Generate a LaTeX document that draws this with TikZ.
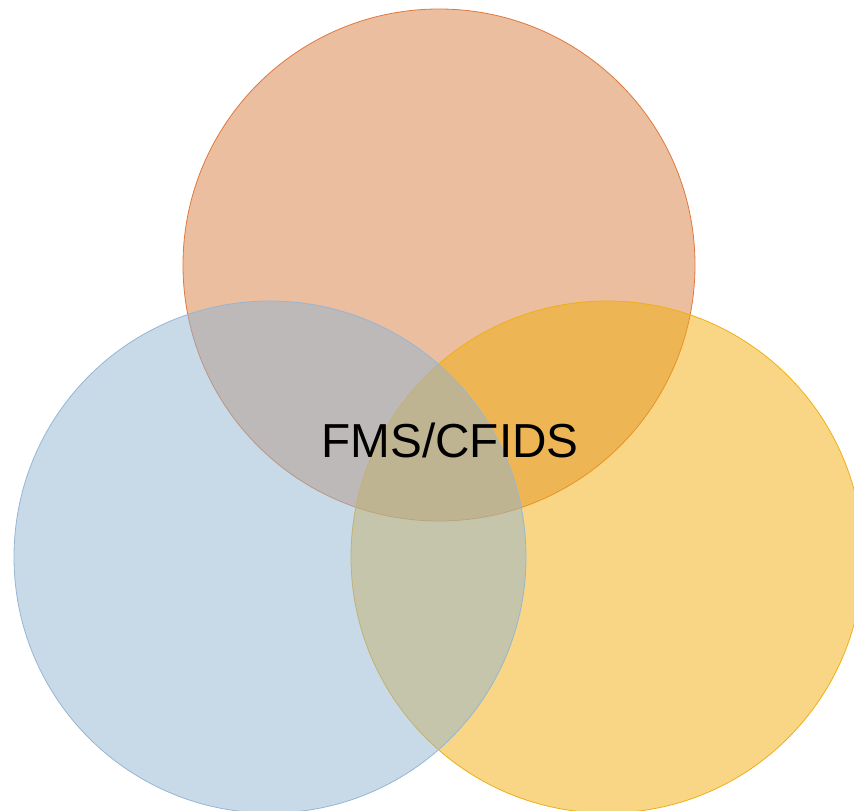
\documentclass[tikz,border=0pt]{standalone}
\usepackage{fontspec}
\setmainfont{Liberation Sans}
\definecolor{orfill}{RGB}{215,125,65}
\definecolor{ordraw}{RGB}{225,120,60}
\definecolor{yefill}{RGB}{241,173,11}
\definecolor{yedraw}{RGB}{240,175,20}
\definecolor{blfill}{RGB}{145,181,209}
\definecolor{bldraw}{RGB}{150,182,212}
\begin{document}
\begin{tikzpicture}[x=1pt,y=-1pt,
  venn/.style={circle,minimum size=512pt,inner sep=0pt,fill opacity=0.5,line width=0.8pt}]
\useasboundingbox (0,0) rectangle (854,811);
\clip (0,0) rectangle (854,811);
\node[venn,fill=orfill,draw=ordraw] (top) at (439,265) {};
\node[venn,fill=yefill,draw=yedraw] (right) at (607,557) {};
\node[venn,fill=blfill,draw=bldraw] (left) at (270,557) {};
\node[font=\fontsize{47.7}{56}\selectfont,text=black] (lbl) at (450,440) {FMS/CFIDS};
\end{tikzpicture}
\end{document}
